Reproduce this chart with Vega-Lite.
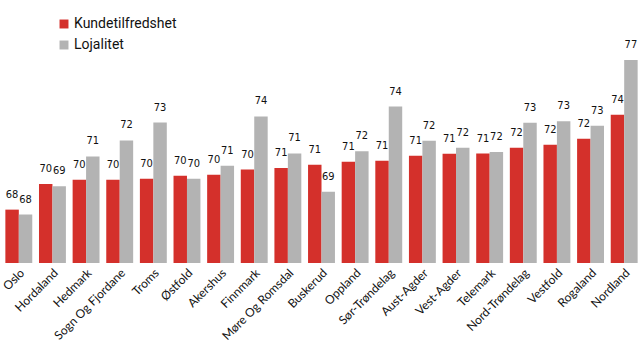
{
  "$schema": "https://vega.github.io/schema/vega-lite/v6.json",
  "width": 639,
  "height": 263,
  "padding": 0,
  "background": "white",
  "config": {"view": {"stroke": null}},
  "data": {"values": [
    {"region": "Oslo", "serie": "Kundetilfredshet", "v": 67.94},
    {"region": "Oslo", "serie": "Lojalitet", "v": 67.63},
    {"region": "Hordaland", "serie": "Kundetilfredshet", "v": 69.55},
    {"region": "Hordaland", "serie": "Lojalitet", "v": 69.4},
    {"region": "Hedmark", "serie": "Kundetilfredshet", "v": 69.81},
    {"region": "Hedmark", "serie": "Lojalitet", "v": 71.27},
    {"region": "Sogn Og Fjordane", "serie": "Kundetilfredshet", "v": 69.81},
    {"region": "Sogn Og Fjordane", "serie": "Lojalitet", "v": 72.27},
    {"region": "Troms", "serie": "Kundetilfredshet", "v": 69.88},
    {"region": "Troms", "serie": "Lojalitet", "v": 73.39},
    {"region": "Østfold", "serie": "Kundetilfredshet", "v": 70.06},
    {"region": "Østfold", "serie": "Lojalitet", "v": 69.88},
    {"region": "Akershus", "serie": "Kundetilfredshet", "v": 70.13},
    {"region": "Akershus", "serie": "Lojalitet", "v": 70.69},
    {"region": "Finnmark", "serie": "Kundetilfredshet", "v": 70.45},
    {"region": "Finnmark", "serie": "Lojalitet", "v": 73.77},
    {"region": "Møre Og Romsdal", "serie": "Kundetilfredshet", "v": 70.55},
    {"region": "Møre Og Romsdal", "serie": "Lojalitet", "v": 71.46},
    {"region": "Buskerud", "serie": "Kundetilfredshet", "v": 70.75},
    {"region": "Buskerud", "serie": "Lojalitet", "v": 69.06},
    {"region": "Oppland", "serie": "Kundetilfredshet", "v": 70.94},
    {"region": "Oppland", "serie": "Lojalitet", "v": 71.6},
    {"region": "Sør-Trøndelag", "serie": "Kundetilfredshet", "v": 71.0},
    {"region": "Sør-Trøndelag", "serie": "Lojalitet", "v": 74.39},
    {"region": "Aust-Agder", "serie": "Kundetilfredshet", "v": 71.31},
    {"region": "Aust-Agder", "serie": "Lojalitet", "v": 72.25},
    {"region": "Vest-Agder", "serie": "Kundetilfredshet", "v": 71.44},
    {"region": "Vest-Agder", "serie": "Lojalitet", "v": 71.81},
    {"region": "Telemark", "serie": "Kundetilfredshet", "v": 71.45},
    {"region": "Telemark", "serie": "Lojalitet", "v": 71.55},
    {"region": "Nord-Trøndelag", "serie": "Kundetilfredshet", "v": 71.81},
    {"region": "Nord-Trøndelag", "serie": "Lojalitet", "v": 73.38},
    {"region": "Vestfold", "serie": "Kundetilfredshet", "v": 72.0},
    {"region": "Vestfold", "serie": "Lojalitet", "v": 73.47},
    {"region": "Rogaland", "serie": "Kundetilfredshet", "v": 72.38},
    {"region": "Rogaland", "serie": "Lojalitet", "v": 73.19},
    {"region": "Nordland", "serie": "Kundetilfredshet", "v": 73.88},
    {"region": "Nordland", "serie": "Lojalitet", "v": 77.31}
  ]},
  "encoding": {
    "x": {
      "field": "region", "type": "nominal", "sort": null,
      "scale": {"paddingInner": 0.2, "paddingOuter": 0.1},
      "axis": {
        "title": null, "ticks": false, "domain": false, "labelAngle": -45,
        "labelFont": "Lato", "labelFontSize": 12, "labelColor": "#111111",
        "labelPadding": 4
      }
    },
    "xOffset": {"field": "serie", "type": "nominal", "sort": ["Kundetilfredshet", "Lojalitet"]},
    "y": {
      "field": "v", "type": "quantitative",
      "scale": {"domain": [64.6, 81.06], "nice": false, "zero": false, "clamp": true},
      "axis": null
    }
  },
  "layer": [
    {
      "mark": {"type": "bar"},
      "encoding": {
        "color": {
          "field": "serie", "type": "nominal",
          "scale": {"domain": ["Kundetilfredshet", "Lojalitet"], "range": ["#d4302b", "#b3b3b3"]},
          "legend": {
            "title": null, "orient": "none", "legendX": 55, "legendY": 17,
            "symbolType": "square", "symbolSize": 80, "symbolStrokeWidth": 0,
            "labelFont": "Roboto", "labelFontSize": 14, "labelColor": "#111111",
            "rowPadding": 7, "labelOffset": 3
          }
        }
      }
    },
    {
      "mark": {"type": "text", "baseline": "middle", "dy": -15, "font": "DejaVu Sans Condensed", "fontSize": 11, "color": "#111111"},
      "encoding": {
        "text": {"field": "v", "type": "quantitative", "format": ".0f"}
      }
    }
  ]
}
